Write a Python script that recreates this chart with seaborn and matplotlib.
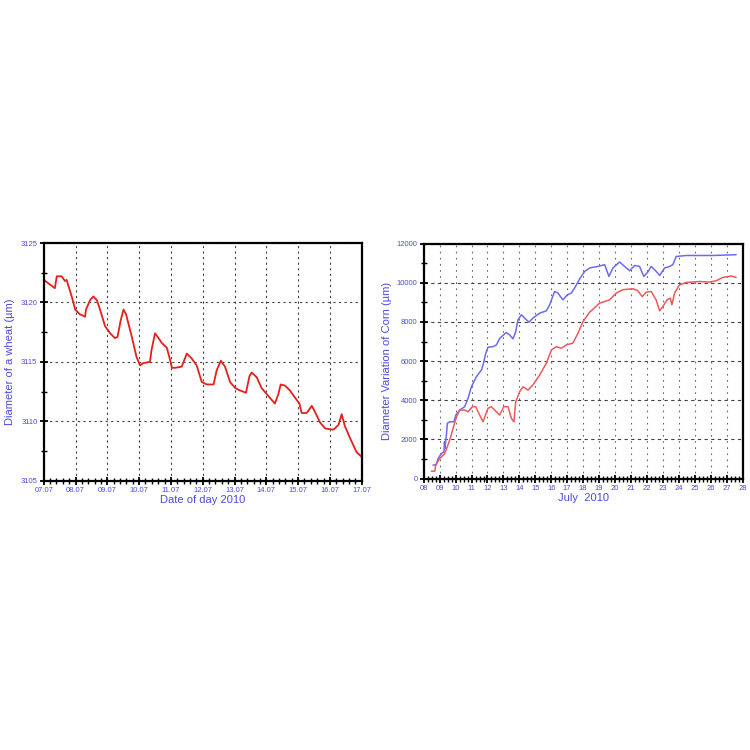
import numpy as np
import pandas as pd
import matplotlib
matplotlib.use("Agg")
from matplotlib import pyplot as plt
from matplotlib.ticker import MultipleLocator
import seaborn as sns

# Wheat: days since 07.07 and stem diameter (um)
wheat_day = [0.00, 0.30, 0.35, 0.41, 0.56, 0.67, 0.72, 0.88, 0.99, 1.14, 1.30, 1.33, 1.46,
             1.56, 1.67, 1.77, 1.93, 2.09, 2.24, 2.32, 2.42, 2.51, 2.59, 2.77, 2.92, 3.03,
             3.13, 3.34, 3.39, 3.50, 3.61, 3.71, 3.87, 3.97, 4.03, 4.13, 4.34, 4.50, 4.65,
             4.81, 4.97, 5.13, 5.34, 5.44, 5.57, 5.70, 5.86, 6.02, 6.17, 6.36, 6.47, 6.54,
             6.70, 6.85, 7.01, 7.17, 7.27, 7.38, 7.45, 7.59, 7.74, 7.90, 8.04, 8.11, 8.27,
             8.43, 8.53, 8.69, 8.85, 9.11, 9.27, 9.37, 9.47, 9.63, 9.84, 10.00]
wheat_diam = [3121.9, 3121.3, 3121.2, 3122.2, 3122.2, 3121.8, 3121.9, 3120.5, 3119.4, 3119.0,
              3118.8, 3119.4, 3120.2, 3120.5, 3120.2, 3119.4, 3118.0, 3117.4, 3117.0, 3117.1,
              3118.5, 3119.4, 3119.0, 3117.1, 3115.4, 3114.7, 3114.9, 3115.0, 3116.0, 3117.4,
              3117.0, 3116.6, 3116.2, 3115.2, 3114.5, 3114.5, 3114.6, 3115.7, 3115.3, 3114.7,
              3113.3, 3113.1, 3113.1, 3114.3, 3115.1, 3114.6, 3113.3, 3112.8, 3112.6, 3112.4,
              3113.8, 3114.1, 3113.7, 3112.8, 3112.3, 3111.8, 3111.5, 3112.3, 3113.1, 3113.0,
              3112.6, 3112.0, 3111.5, 3110.7, 3110.7, 3111.3, 3110.8, 3109.9, 3109.4, 3109.3,
              3109.7, 3110.6, 3109.6, 3108.6, 3107.4, 3107.0]
wheat_ticks = ["07.07", "08.07", "09.07", "10.07", "11.07", "12.07",
               "13.07", "14.07", "15.07", "16.07", "17.07"]

# Corn: day of July 2010 and diameter variation (um), two plants
blue_day = [8.58, 8.79, 8.90, 9.11, 9.27, 9.30, 9.33, 9.42, 9.48, 9.63, 9.90, 10.01, 10.26,
            10.57, 10.78, 10.99, 11.30, 11.62, 11.72, 11.89, 12.03, 12.35, 12.56, 12.77,
            13.18, 13.39, 13.60, 13.77, 13.91, 14.13, 14.33, 14.60, 14.85, 15.27, 15.69,
            15.90, 16.21, 16.42, 16.73, 17.01, 17.26, 17.46, 17.78, 18.09, 18.41, 18.93,
            19.35, 19.62, 19.87, 20.29, 20.60, 20.92, 21.23, 21.54, 21.81, 22.06, 22.27,
            22.55, 22.80, 23.11, 23.42, 23.63, 23.84, 24.47, 26.14, 27.60]
blue_val = [680, 715, 1020, 1280, 1360, 1880, 1540, 2220, 2820, 2900, 2900, 3240, 3500,
            3670, 4100, 4690, 5200, 5550, 5800, 6400, 6710, 6740, 6830, 7170, 7460, 7340,
            7140, 7510, 8110, 8370, 8200, 7990, 8200, 8450, 8570, 8880, 9560, 9480, 9130,
            9390, 9480, 9730, 10200, 10580, 10760, 10840, 10930, 10330, 10760, 11070, 10840,
            10620, 10890, 10840, 10330, 10550, 10840, 10620, 10380, 10760, 10840, 10930,
            11350, 11400, 11400, 11440]
red_day = [8.48, 8.69, 8.75, 9.00, 9.32, 9.63, 9.84, 10.05, 10.26, 10.57, 10.78, 11.05,
           11.26, 11.51, 11.72, 12.03, 12.24, 12.56, 12.76, 13.02, 13.29, 13.50, 13.66,
           13.77, 14.02, 14.23, 14.54, 14.85, 15.27, 15.69, 16.01, 16.32, 16.63, 16.95,
           17.36, 17.68, 17.99, 18.41, 19.03, 19.66, 20.08, 20.49, 21.12, 21.43, 21.71,
           21.96, 22.27, 22.58, 22.80, 23.00, 23.26, 23.47, 23.57, 23.74, 24.05, 24.47,
           25.30, 25.93, 26.35, 26.77, 27.29, 27.60]
red_val = [370, 370, 680, 1020, 1280, 1960, 2560, 3150, 3500, 3500, 3410, 3670, 3670, 3240,
           2900, 3590, 3670, 3410, 3240, 3670, 3670, 3070, 2900, 3920, 4440, 4690, 4520,
           4780, 5290, 5890, 6570, 6740, 6660, 6830, 6920, 7430, 8020, 8500, 8960, 9130,
           9480, 9650, 9700, 9600, 9300, 9530, 9560, 9130, 8570, 8790, 9130, 9220, 8880,
           9480, 9900, 10020, 10070, 10040, 10110, 10280, 10350, 10280]
corn_ticks = ["%02d" % d for d in range(8, 29)]

sns.set_style("white")
plt.rcParams["font.family"] = ["Liberation Sans", "DejaVu Sans"]

label_blue = "#4b4bdc"
fig = plt.figure(figsize=(7.5, 7.5), dpi=100)
ax1 = fig.add_axes([0.0583, 0.359, 0.424, 0.317])
ax2 = fig.add_axes([0.565, 0.362, 0.425, 0.313])

wheat = pd.DataFrame({"day": wheat_day, "diam": wheat_diam})
sns.lineplot(data=wheat, x="day", y="diam", ax=ax1, color="#e3201c", linewidth=1.3,
             estimator=None, sort=False)

corn = pd.concat([
    pd.DataFrame({"day": blue_day, "val": blue_val, "plant": "A"}),
    pd.DataFrame({"day": red_day, "val": red_val, "plant": "B"}),
])
sns.lineplot(data=corn, x="day", y="val", hue="plant", ax=ax2, estimator=None, sort=False,
             palette={"A": "#6b6bf0", "B": "#ec5a5a"}, linewidth=1.1, legend=False)

# left panel axes
ax1.set_xlim(0, 10)
ax1.set_ylim(3105, 3125)
ax1.set_xticks(range(11))
ax1.set_xticklabels(wheat_ticks)
ax1.set_yticks([3105, 3110, 3115, 3120, 3125])
ax1.xaxis.set_minor_locator(MultipleLocator(0.2))
ax1.yaxis.set_minor_locator(MultipleLocator(2.5))
ax1.set_xlabel("Date of day 2010", color=label_blue, fontsize=8, labelpad=1)
ax1.set_ylabel("Diameter of a wheat (\u00b5m)", color=label_blue, fontsize=8, labelpad=4)

# right panel axes
ax2.set_xlim(8, 28)
ax2.set_ylim(0, 12000)
ax2.set_xticks(range(8, 29))
ax2.set_xticklabels(corn_ticks)
ax2.set_yticks(range(0, 12001, 2000))
ax2.xaxis.set_minor_locator(MultipleLocator(0.25))
ax2.yaxis.set_minor_locator(MultipleLocator(1000))
ax2.set_xlabel("July  2010", color=label_blue, fontsize=8, labelpad=1)
ax2.set_ylabel("Diameter Variation of Corn (\u00b5m)", color=label_blue, fontsize=8, labelpad=3)

for ax in (ax1, ax2):
    for sp in ax.spines.values():
        sp.set_color("black")
        sp.set_linewidth(1.6)
    ax.tick_params(which="major", direction="inout", length=6, width=1.3, color="black",
                   labelsize=5.5, labelcolor=label_blue, pad=1.5)
    ax.tick_params(which="minor", direction="inout", length=4, width=1.0, color="black")
    ax.tick_params(axis="x", which="both", bottom=True)
    ax.tick_params(axis="y", which="both", left=True)
    ax.grid(False)

ax1.grid(True, which="major", linestyle=(0, (2, 3)), color="#444444", linewidth=0.8)
ax2.grid(True, which="major", axis="y", linestyle=(0, (3, 3)), color="#444444", linewidth=0.8)
ax2.grid(True, which="major", axis="x", linestyle=(0, (1.5, 4)), color="#666666", linewidth=0.8)
ax1.set_axisbelow(True)
ax2.set_axisbelow(True)

fig.savefig("out.png", dpi=100, facecolor="white")
